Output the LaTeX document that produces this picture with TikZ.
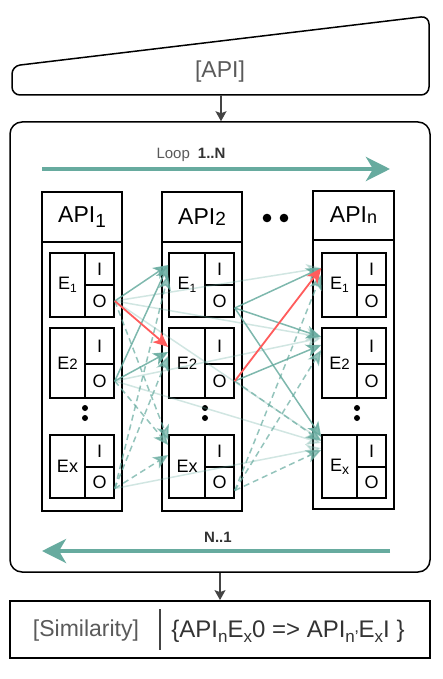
\documentclass[tikz,border=0pt]{standalone}
\usepackage{fontspec}
\setmainfont{Liberation Sans}
\usetikzlibrary{arrows.meta}

\definecolor{loopteal}{HTML}{67AB9F}
\definecolor{hotred}{HTML}{FF5C5C}
\definecolor{txtgray}{HTML}{5A5A5A}
\definecolor{txtdark}{HTML}{333333}
\definecolor{flowgray}{HTML}{444444}

\newcommand{\fsz}[1]{\fontsize{#1}{#1}\selectfont}
\newcommand{\lowsub}[3]{\raisebox{-#1}{\fsz{#2}#3}}

\begin{document}
\begin{tikzpicture}[x=1pt, y=-1pt,
  outline/.style={draw, line width=1.5pt},
  colbox/.style={draw, line width=1.8pt, inner sep=0pt, minimum width=80pt},
  cell/.style={draw, line width=1.6pt, inner sep=0pt, font=\fsz{18}},
  ename/.style={cell, minimum width=35pt, minimum height=#1},
  port/.style={cell, minimum width=29pt, minimum height=#1},
  flow/.style={-{Stealth[length=10pt, width=11pt, inset=2pt]}, draw=flowgray, line width=1.5pt},
  bigloop/.style={-{Stealth[length=24pt, width=24pt, inset=7pt]}, draw=loopteal, line width=4pt},
  link/.style={-{Stealth[length=15pt, width=13pt, inset=4pt]}, draw=loopteal, line width=1.5pt, opacity=0.85},
  dlink/.style={link, dash pattern=on 6pt off 4pt, opacity=0.7},
  faint/.style={link, opacity=0.3},
  hot/.style={link, draw=hotred, line width=1.8pt, opacity=1}]

  \useasboundingbox (0,0) rectangle (442,679);

  % input and outer frame
  \draw[outline, rounded corners=8pt] (12,66) -- (429,16) -- (429,95) -- (12,95) -- cycle;
  \node[text=txtgray, font=\fsz{23}]  (api)  at (220,72)  {[API]};
  \coordinate (apib) at (221,95);
  \node[outline, rounded corners=12pt, minimum width=420pt, minimum height=450pt] (box) at (220,347) {};
  \draw[flow] (apib) -- (apib |- box.north);

  % loop arrows
  \coordinate (fwds) at (42,169);
  \coordinate (fwde) at (390,169);
  \draw[bigloop] (fwds) -- (fwde);
  \node[font=\fsz{15}, text=txtgray] (fwdlbl) at (191,155) {Loop\hspace{8pt}\textcolor{txtdark}{\bfseries 1..N}};
  \coordinate (bwds) at (390,551);
  \coordinate (bwde) at (42,551);
  \draw[bigloop] (bwds) -- (bwde);
  \node[font=\fsz{15}\bfseries, text=txtdark] (bwdlbl) at (218,537) {N..1};

  % columns
  \node[colbox, minimum height=50pt, font=\fsz{23}]  (api1) at (82,217)    {API\lowsub{5pt}{19}{1}};
  \node[colbox, minimum height=269pt]                (col1) at (82,376.5)  {};
  \node[colbox, minimum height=50pt, font=\fsz{23}]  (api2) at (202,217)   {API\lowsub{1pt}{19}{2}};
  \node[colbox, minimum height=269pt]                (col2) at (202,376.5) {};
  \node[colbox, minimum width=81pt, minimum height=49pt, font=\fsz{23}] (apin) at (353.5,215.5) {API\lowsub{1pt}{18}{n}};
  \node[colbox, minimum width=81pt, minimum height=269pt]               (coln) at (353.5,374.5) {};
  \fill (267,218) circle (4.3pt) (284,218) circle (4.3pt);

  % entities of API 1
  \node[ename=64] (a1e1)  at (67.5,285)   {E\lowsub{3pt}{12}{1}};
  \node[port=32]  (a1e1i) at (99.5,269)   {I};
  \node[port=32]  (a1e1o) at (99.5,301)   {O};
  \node[ename=70] (a1e2)  at (67.5,363)   {E\lowsub{0pt}{15}{2}};
  \node[port=36]  (a1e2i) at (99.5,346)   {I};
  \node[port=34]  (a1e2o) at (99.5,381)   {O};
  \node[ename=63] (a1ex)  at (67.5,466.5) {Ex};
  \node[port=32]  (a1exi) at (99.5,451)   {I};
  \node[port=31]  (a1exo) at (99.5,482.5) {O};

  % entities of API 2
  \node[ename=64, minimum width=36pt] (a2e1)  at (187,285)   {E\lowsub{3pt}{12}{1}};
  \node[port=32]  (a2e1i) at (219.5,269)   {I};
  \node[port=32]  (a2e1o) at (219.5,301)   {O};
  \node[ename=70, minimum width=36pt] (a2e2)  at (187,363)   {E\lowsub{0pt}{15}{2}};
  \node[port=36]  (a2e2i) at (219.5,346)   {I};
  \node[port=34]  (a2e2o) at (219.5,381)   {O};
  \node[ename=63, minimum width=36pt] (a2ex)  at (187,466.5) {Ex};
  \node[port=32]  (a2exi) at (219.5,451)   {I};
  \node[port=31]  (a2exo) at (219.5,482.5) {O};

  % entities of API n
  \node[ename=64] (a3e1)  at (339.5,285)   {E\lowsub{3pt}{12}{1}};
  \node[port=32]  (a3e1i) at (371.5,269)   {I};
  \node[port=32]  (a3e1o) at (371.5,301)   {O};
  \node[ename=70] (a3e2)  at (339.5,363)   {E\lowsub{0pt}{15}{2}};
  \node[port=36]  (a3e2i) at (371.5,346)   {I};
  \node[port=34]  (a3e2o) at (371.5,381)   {O};
  \node[ename=63] (a3ex)  at (339.5,466.5) {E\lowsub{3pt}{14}{x}};
  \node[port=32]  (a3exi) at (371.5,451)   {I};
  \node[port=31]  (a3exo) at (371.5,482.5) {O};

  \fill (85,408) circle (3pt) (85,418) circle (3pt);
  \fill (205,408) circle (3pt) (205,418) circle (3pt);
  \fill (357,408) circle (3pt) (357,418) circle (3pt);

  % API 1 -> API n
  \path
  (a1e1o.east) edge[faint] ([yshift=17pt]a3e1.west)
               edge[faint] ([yshift=26pt]a3e2.west)
               edge[faint] ([yshift=26.5pt]a3ex.west)
  (a1e2o.east) edge[faint] ([yshift=25pt]a3e2.west)
               edge[faint] ([yshift=23.5pt]a3ex.west)
  ([yshift=-6pt]a1exo.east) edge[faint] ([yshift=18.5pt]a3ex.west);

  % API 1 -> API 2
  \path
  (a1e1o.east) edge[link]  ([yshift=20pt]a2e1.west)
               edge[dlink] ([yshift=26.5pt]a2ex.west)
  (a1e2o.east) edge[link]  ([yshift=20pt]a2e1.west)
               edge[link]  ([yshift=11pt]a2e2.west)
               edge[dlink] ([yshift=21.5pt]a2ex.west)
  ([yshift=-6pt]a1exo.east) edge[dlink] ([yshift=10pt]a2e1.west)
               edge[dlink] ([yshift=7pt]a2e2.west)
               edge[dlink] ([yshift=11.5pt]a2ex.west)
  (a1e1o.east) edge[hot]   ([yshift=16pt]a2e2.west);

  % API 2 -> API n
  \path
  ([yshift=-7pt]a2e1o.east) edge[link] ([yshift=17pt]a3e1.west)
               edge[link]  ([yshift=26pt]a3e2.west)
               edge[link]  ([yshift=29.5pt]a3ex.west)
  (a2e2o.east) edge[link]  ([yshift=18pt]a3e2.west)
               edge[dlink] ([yshift=25.5pt]a3ex.west)
  ([yshift=-8pt]a2exo.east) edge[dlink] ([yshift=10pt]a3e1.west)
               edge[dlink] ([yshift=13pt]a3e2.west)
               edge[dlink] ([yshift=16.5pt]a3ex.west)
  (a2e2o.east) edge[hot]   ([yshift=17pt]a3e1.west);

  % result
  \node[draw, line width=1.8pt, minimum width=420pt, minimum height=57pt] (sim) at (220,629.5) {};
  \draw[flow] (box.south) -- (sim.north);
  \node[font=\fsz{23}, text=txtgray] (simlbl) at (86,631) {[Similarity]};
  \draw[line width=1.5pt, draw=flowgray] (160,609) -- (160,650);
  \node[font=\fsz{24}, text=txtdark] (simexpr) at (288,631)
    {\{API\lowsub{5pt}{17}{n}E\lowsub{5pt}{17}{x}0 => API\lowsub{5pt}{17}{n'}E\lowsub{5pt}{17}{x}I \}};

\end{tikzpicture}
\end{document}
